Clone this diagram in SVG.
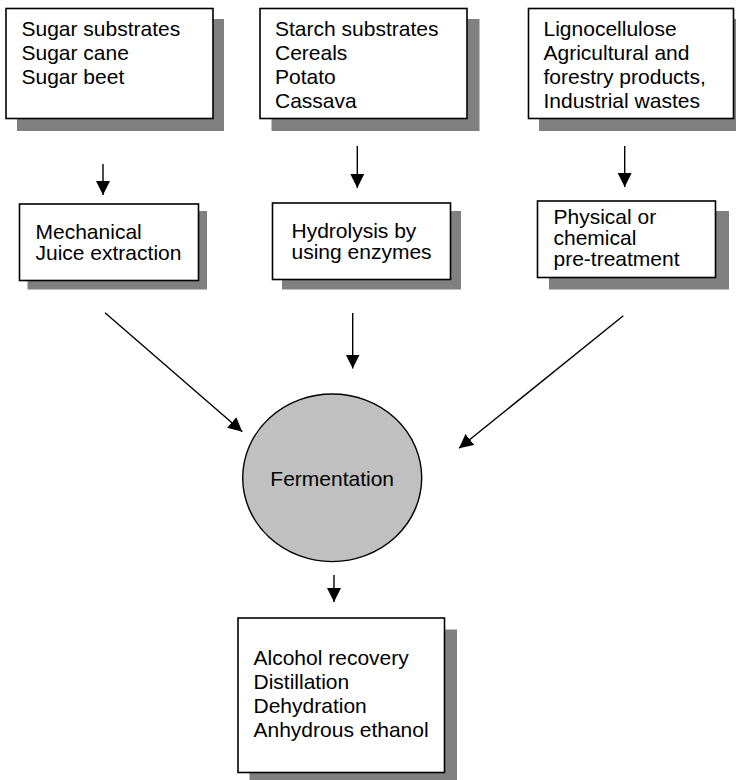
<svg xmlns="http://www.w3.org/2000/svg" width="736" height="780" viewBox="0 0 736 780">
<defs>
<style>
.shadow{fill:#808080;stroke:none}
.box{fill:#ffffff;stroke:#000000;stroke-width:1.6}
.t{font-family:"Liberation Sans",Arial,Helvetica,sans-serif;font-size:21px;fill:#000000}
.conn{stroke:#000000;stroke-width:1.4;fill:none;marker-end:url(#ah)}
</style>
<marker id="ah" markerUnits="userSpaceOnUse" markerWidth="15" markerHeight="15" refX="14" refY="7" orient="auto" viewBox="0 0 15 15">
<path d="M0,0 L14,7 L0,14 z" fill="#000000"/>
</marker>
</defs>
<rect width="736" height="780" fill="#ffffff"/>

<g id="sugar">
<rect class="shadow" x="17" y="19" width="207" height="112"/>
<rect class="box" x="6" y="8.5" width="207" height="110"/>
<text class="t" x="21.5" y="35.5">Sugar substrates</text>
<text class="t" x="21.5" y="59.5">Sugar cane</text>
<text class="t" x="21.5" y="83.5">Sugar beet</text>
</g>

<g id="starch">
<rect class="shadow" x="271.5" y="19" width="208" height="112"/>
<rect class="box" x="260" y="8.5" width="207" height="110"/>
<text class="t" x="275" y="35.5">Starch substrates</text>
<text class="t" x="275" y="59.5">Cereals</text>
<text class="t" x="275" y="83.5">Potato</text>
<text class="t" x="275" y="107.5">Cassava</text>
</g>

<g id="ligno">
<rect class="shadow" x="539" y="19" width="207" height="112"/>
<rect class="box" x="528.5" y="8.5" width="205" height="110"/>
<text class="t" x="543.5" y="35.5">Lignocellulose</text>
<text class="t" x="543.5" y="59.5">Agricultural and</text>
<text class="t" x="543.5" y="83.5">forestry products,</text>
<text class="t" x="543.5" y="107.5">Industrial wastes</text>
</g>

<g id="mechanical">
<rect class="shadow" x="27.5" y="211" width="179.5" height="78.5"/>
<rect class="box" x="19.5" y="204" width="179" height="76.5"/>
<text class="t" x="35.5" y="238.5">Mechanical</text>
<text class="t" x="35.5" y="259.5">Juice extraction</text>
</g>

<g id="hydrolysis">
<rect class="shadow" x="282" y="211" width="179" height="78.5"/>
<rect class="box" x="272.5" y="203" width="178" height="76.5"/>
<text class="t" x="291.5" y="238">Hydrolysis by</text>
<text class="t" x="291.5" y="259">using enzymes</text>
</g>

<g id="pretreatment">
<rect class="shadow" x="549" y="211" width="180" height="78.5"/>
<rect class="box" x="537.5" y="201" width="178" height="76.5"/>
<text class="t" x="553.5" y="224">Physical or</text>
<text class="t" x="553.5" y="245">chemical</text>
<text class="t" x="553.5" y="266">pre-treatment</text>
</g>

<g id="fermentation">
<ellipse cx="332.2" cy="477.8" rx="89.5" ry="83.8" fill="#c0c0c0" stroke="#000000" stroke-width="1.4"/>
<text class="t" x="332.2" y="485.5" text-anchor="middle">Fermentation</text>
</g>

<g id="recovery">
<rect class="shadow" x="249.5" y="629.5" width="207.5" height="160"/>
<rect class="box" x="238" y="618" width="206.5" height="154.5"/>
<text class="t" x="253.5" y="665">Alcohol recovery</text>
<text class="t" x="253.5" y="689">Distillation</text>
<text class="t" x="253.5" y="713">Dehydration</text>
<text class="t" x="253.5" y="737">Anhydrous ethanol</text>
</g>

<g id="connectors">
<line class="conn" x1="103" y1="164" x2="103" y2="195"/>
<line class="conn" x1="357.3" y1="146" x2="357.3" y2="188"/>
<line class="conn" x1="624.7" y1="146" x2="624.7" y2="187"/>
<line class="conn" x1="352.7" y1="313" x2="352.7" y2="368.5"/>
<line class="conn" x1="105" y1="312.7" x2="242.3" y2="431.7"/>
<line class="conn" x1="623.3" y1="315.7" x2="459" y2="448.3"/>
<line class="conn" x1="334" y1="575" x2="334" y2="602"/>
</g>
</svg>
